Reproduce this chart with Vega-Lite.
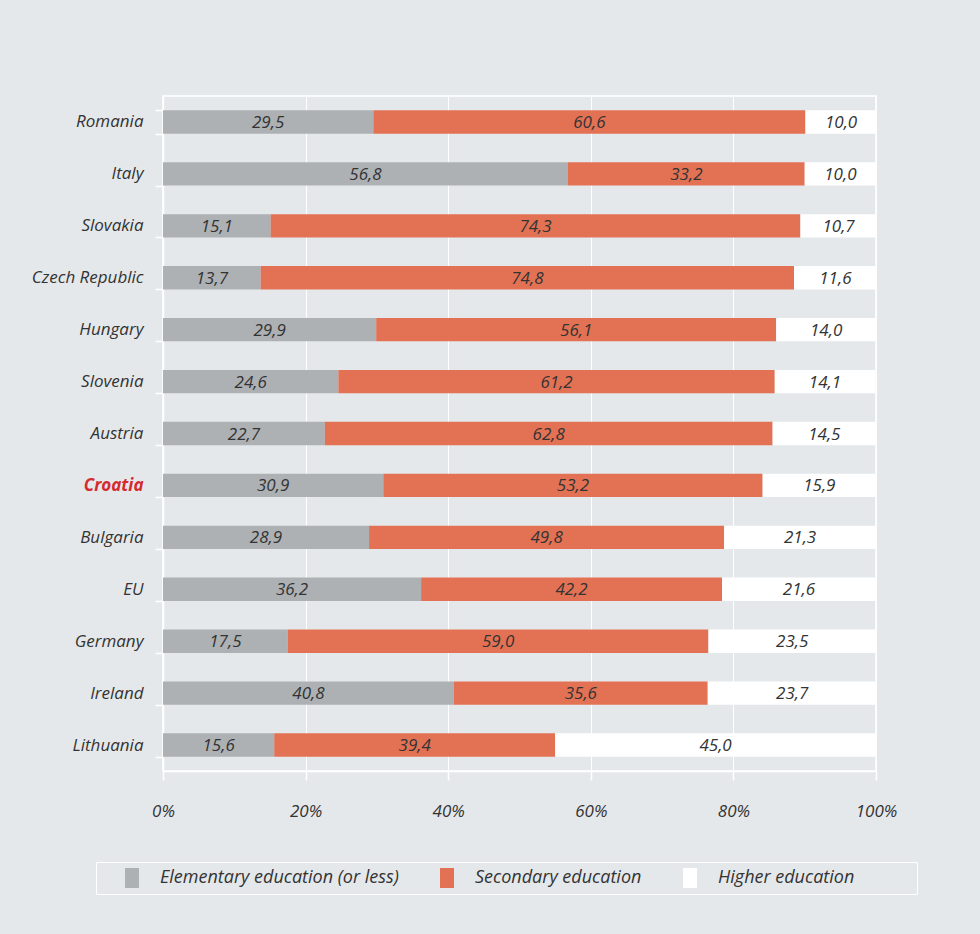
{
  "$schema": "https://vega.github.io/schema/vega-lite/v6.json",
  "width": 713,
  "height": 675,
  "autosize": {"type": "none"},
  "padding": {"left": 163, "top": 96, "right": 104, "bottom": 163},
  "background": "#e5e8eb",
  "config": {
    "locale": {"number": {"decimal": ",", "thousands": ".", "grouping": [3], "currency": ["", " €"]}},
    "view": {"stroke": "#ffffff", "strokeWidth": 1.5},
    "font": "Open Sans"
  },
  "data": {
    "values": [
      {"country": "Romania", "level": "Elementary education (or less)", "k": 1, "value": 29.5},
      {"country": "Romania", "level": "Secondary education", "k": 2, "value": 60.6},
      {"country": "Romania", "level": "Higher education", "k": 3, "value": 10.0},
      {"country": "Italy", "level": "Elementary education (or less)", "k": 1, "value": 56.8},
      {"country": "Italy", "level": "Secondary education", "k": 2, "value": 33.2},
      {"country": "Italy", "level": "Higher education", "k": 3, "value": 10.0},
      {"country": "Slovakia", "level": "Elementary education (or less)", "k": 1, "value": 15.1},
      {"country": "Slovakia", "level": "Secondary education", "k": 2, "value": 74.3},
      {"country": "Slovakia", "level": "Higher education", "k": 3, "value": 10.7},
      {"country": "Czech Republic", "level": "Elementary education (or less)", "k": 1, "value": 13.7},
      {"country": "Czech Republic", "level": "Secondary education", "k": 2, "value": 74.8},
      {"country": "Czech Republic", "level": "Higher education", "k": 3, "value": 11.6},
      {"country": "Hungary", "level": "Elementary education (or less)", "k": 1, "value": 29.9},
      {"country": "Hungary", "level": "Secondary education", "k": 2, "value": 56.1},
      {"country": "Hungary", "level": "Higher education", "k": 3, "value": 14.0},
      {"country": "Slovenia", "level": "Elementary education (or less)", "k": 1, "value": 24.6},
      {"country": "Slovenia", "level": "Secondary education", "k": 2, "value": 61.2},
      {"country": "Slovenia", "level": "Higher education", "k": 3, "value": 14.1},
      {"country": "Austria", "level": "Elementary education (or less)", "k": 1, "value": 22.7},
      {"country": "Austria", "level": "Secondary education", "k": 2, "value": 62.8},
      {"country": "Austria", "level": "Higher education", "k": 3, "value": 14.5},
      {"country": "Croatia", "level": "Elementary education (or less)", "k": 1, "value": 30.9},
      {"country": "Croatia", "level": "Secondary education", "k": 2, "value": 53.2},
      {"country": "Croatia", "level": "Higher education", "k": 3, "value": 15.9},
      {"country": "Bulgaria", "level": "Elementary education (or less)", "k": 1, "value": 28.9},
      {"country": "Bulgaria", "level": "Secondary education", "k": 2, "value": 49.8},
      {"country": "Bulgaria", "level": "Higher education", "k": 3, "value": 21.3},
      {"country": "EU", "level": "Elementary education (or less)", "k": 1, "value": 36.2},
      {"country": "EU", "level": "Secondary education", "k": 2, "value": 42.2},
      {"country": "EU", "level": "Higher education", "k": 3, "value": 21.6},
      {"country": "Germany", "level": "Elementary education (or less)", "k": 1, "value": 17.5},
      {"country": "Germany", "level": "Secondary education", "k": 2, "value": 59.0},
      {"country": "Germany", "level": "Higher education", "k": 3, "value": 23.5},
      {"country": "Ireland", "level": "Elementary education (or less)", "k": 1, "value": 40.8},
      {"country": "Ireland", "level": "Secondary education", "k": 2, "value": 35.6},
      {"country": "Ireland", "level": "Higher education", "k": 3, "value": 23.7},
      {"country": "Lithuania", "level": "Elementary education (or less)", "k": 1, "value": 15.6},
      {"country": "Lithuania", "level": "Secondary education", "k": 2, "value": 39.4},
      {"country": "Lithuania", "level": "Higher education", "k": 3, "value": 45.0}
    ]
  },
  "transform": [
    {"stack": "value", "groupby": ["country"], "sort": [{"field": "k", "order": "ascending"}], "as": ["v0", "v1"]},
    {"calculate": "(datum.v0 + datum.v1) / 2", "as": "mid"}
  ],
  "encoding": {
    "y": {
      "field": "country",
      "type": "nominal",
      "sort": ["Romania", "Italy", "Slovakia", "Czech Republic", "Hungary", "Slovenia", "Austria", "Croatia", "Bulgaria", "EU", "Germany", "Ireland", "Lithuania"],
      "scale": {"paddingInner": 0.55, "paddingOuter": 0.275},
      "axis": {
        "title": null,
        "domainColor": "#ffffff",
        "domainWidth": 1.5,
        "ticks": true,
        "tickColor": "#ffffff",
        "tickWidth": 1.5,
        "tickSize": 8,
        "tickBand": "extent",
        "labelPadding": 12,
        "labelFontSize": 17,
        "labelFontStyle": "italic",
        "labelColor": {"condition": {"test": "datum.value === 'Croatia'", "value": "#d52b2e"}, "value": "#333333"},
        "labelFontWeight": {"condition": {"test": "datum.value === 'Croatia'", "value": "bold"}, "value": "normal"}
      }
    }
  },
  "layer": [
    {
      "mark": {"type": "bar", "clip": true},
      "encoding": {
        "x": {
          "field": "v0",
          "type": "quantitative",
          "scale": {"domain": [0, 100]},
          "axis": {
            "title": null,
            "values": [0, 20, 40, 60, 80, 100],
            "labelExpr": "datum.value + '%'",
            "labelFlush": false,
            "domainColor": "#ffffff",
            "domainWidth": 1.5,
            "grid": true,
            "gridColor": "#ffffff",
            "gridWidth": 1,
            "tickColor": "#ffffff",
            "tickWidth": 1.5,
            "tickSize": 9,
            "labelPadding": 23,
            "labelFontSize": 17,
            "labelFontStyle": "italic",
            "labelColor": "#333333"
          }
        },
        "x2": {"field": "v1"},
        "color": {
          "field": "level",
          "type": "nominal",
          "scale": {
            "domain": ["Elementary education (or less)", "Secondary education", "Higher education"],
            "range": ["#adb1b4", "#e37255", "#ffffff"]
          },
          "legend": {
            "orient": "none",
            "legendX": -67,
            "legendY": 766,
            "direction": "horizontal",
            "title": " ",
            "titleOrient": "left",
            "titlePadding": 20,
            "strokeColor": "#ffffff",
            "padding": 6,
            "symbolType": "M-0.7,-1H0.7V1H-0.7Z",
            "symbolSize": 400,
            "symbolStrokeWidth": 0,
            "symbolOpacity": 1,
            "labelFontSize": 18,
            "labelFontStyle": "italic",
            "labelColor": "#333333",
            "labelLimit": 400,
            "labelOffset": 18,
            "columnPadding": 38,
            "labelExpr": "datum.label === 'Higher education' ? datum.label + '\u00a0\u00a0\u00a0\u00a0\u00a0\u00a0\u00a0\u00a0\u00a0\u00a0\u00a0\u00a0\u200b' : datum.label"
          }
        }
      }
    },
    {
      "mark": {"type": "text", "fontSize": 17, "fontStyle": "italic", "color": "#333333", "baseline": "middle", "dy": 1},
      "encoding": {
        "x": {"field": "mid", "type": "quantitative"},
        "text": {"field": "value", "type": "quantitative", "format": ".1f"}
      }
    }
  ]
}
